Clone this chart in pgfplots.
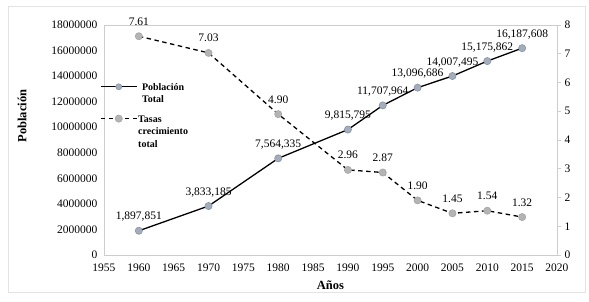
\documentclass[border=0pt]{standalone}
\usepackage{fontspec}
\setmainfont{Liberation Serif}
\usepackage{pgfplots}
\pgfplotsset{compat=1.18}
\usepackage{pgfplotstable}
\definecolor{axgray}{RGB}{205,205,205}
\definecolor{popfill}{RGB}{163,173,188}
\definecolor{popedge}{RGB}{135,147,163}
\definecolor{ratefill}{RGB}{180,180,180}
\definecolor{rateedge}{RGB}{165,165,165}

\pgfplotstableread{
year pop label
1960 1897851 1,897,851
1970 3833185 3,833,185
1980 7564335 7,564,335
1990 9815795 9,815,795
1995 11707964 11,707,964
2000 13096686 13,096,686
2005 14007495 14,007,495
2010 15175862 15,175,862
2015 16187608 16,187,608
}\poptable

\pgfplotstableread{
year rate label
1960 7.61 7.61
1970 7.03 7.03
1980 4.90 4.90
1990 2.96 2.96
1995 2.87 2.87
2000 1.90 1.90
2005 1.45 1.45
2010 1.54 1.54
2015 1.32 1.32
}\ratetable

\begin{document}
\begin{tikzpicture}[x=1pt,y=1pt]
\pgfplotsset{
  base/.style={
    width=453pt, height=230pt, scale only axis,
    xmin=1955, xmax=2020, clip=false,
    /pgf/number format/assume math mode=true,
    tick label style={font=\fontsize{11.5}{13}\selectfont, /pgf/number format/1000 sep={}},
    axis line style={axgray},
    every node near coord/.append style={font=\fontsize{11.5}{13}\selectfont, text=black, anchor=base, yshift=11pt},
  },
  popstyle/.style={black, line width=1.3pt, mark=*, mark size=3.6pt, mark options={solid, fill=popfill, draw=popedge, line width=0.6pt}},
  ratestyle/.style={black, line width=1.3pt, dash pattern=on 4.5pt off 3.5pt, mark=*, mark size=3.6pt, mark options={solid, fill=ratefill, draw=rateedge, line width=0.6pt}},
}
\begin{axis}[base,
  ymin=0, ymax=18000000,
  ytick={0,2000000,4000000,6000000,8000000,10000000,12000000,14000000,16000000,18000000},
  scaled y ticks=false,
  yticklabel style={/pgf/number format/fixed, xshift=-3pt},
  xticklabel style={yshift=-5pt},
  xtick={1955,1960,...,2020},
  major tick length=0pt,
  xlabel={\textbf{Años}}, ylabel={\textbf{Población}},
  label style={font=\fontsize{12.5}{14}\selectfont},
  ylabel style={at={(axis description cs:-0.181,0.604)}, anchor=center, rotate=0},
  xlabel style={at={(axis description cs:0.5,0)}, anchor=center, yshift=-30pt},
]
\addplot[popstyle, nodes near coords, point meta=explicit symbolic] table[x=year, y=pop, meta=label] {\poptable};
\end{axis}
\begin{axis}[base,
  ymin=0, ymax=8, ytick={0,1,...,8},
  axis y line*=right, hide x axis,
  tick align=outside, major tick length=4pt,
  y tick style={axgray, line width=0.6pt},
  legend style={at={(axis description cs:-0.009,0.758)}, anchor=north west, draw=none, fill=none,
    font=\bfseries\fontsize{10}{12.5}\selectfont, row sep=20pt, inner sep=0pt,
    nodes={inner sep=0.8pt}},
  legend image code/.code={\draw[mark repeat=2, mark phase=2, #1] plot coordinates {(0pt,0pt) (18pt,0pt) (36pt,0pt)};},
]
\addlegendimage{popstyle, mark size=3pt}
\addlegendentry{\begin{tabular}[t]{@{}l@{}}Población\\Total\end{tabular}}
\addplot[ratestyle, nodes near coords, point meta=explicit symbolic] table[x=year, y=rate, meta=label] {\ratetable};
\addlegendentry{\begin{tabular}[t]{@{}l@{}}Tasas\\crecimiento\\total\end{tabular}}
\end{axis}
\draw[gray!22, line width=0.9pt] (-96,-37) rectangle (481,249);
\pgfresetboundingbox
\path (-104,-46) rectangle (485,255);
\end{tikzpicture}
\end{document}
